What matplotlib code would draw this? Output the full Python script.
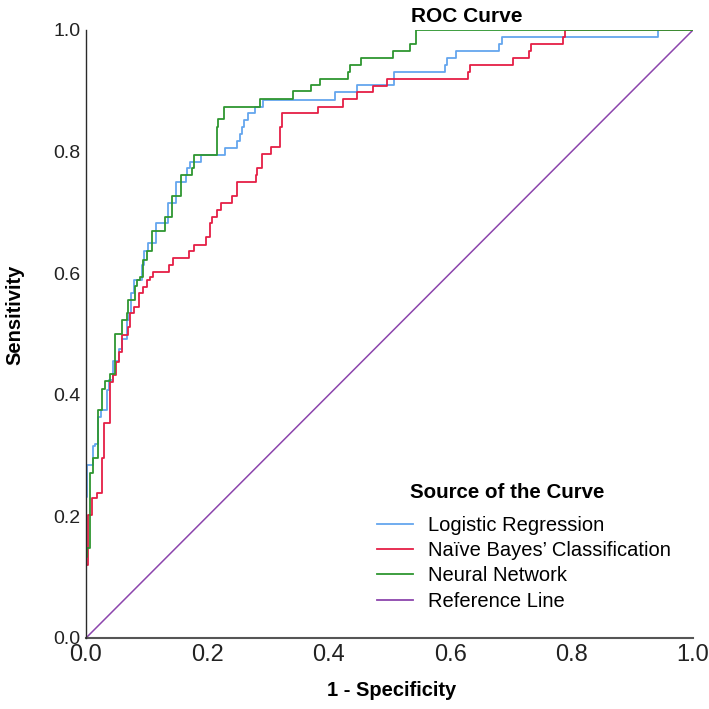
import matplotlib
matplotlib.use("Agg")
import matplotlib.pyplot as plt
from matplotlib.lines import Line2D

# ---------------- data ----------------
series_names = ["Logistic Regression", "Naïve Bayes’ Classification", "Neural Network", "Reference Line"]

lr_fpr = [0.0, 0.0, 0.002, 0.011, 0.015, 0.019, 0.024, 0.034, 0.038, 0.045, 0.055, 0.059, 0.067, 0.071,
          0.074, 0.079, 0.092, 0.095, 0.102, 0.116, 0.135, 0.149, 0.164, 0.167, 0.171, 0.189, 0.229,
          0.248, 0.253, 0.257, 0.260, 0.267, 0.279, 0.292, 0.410, 0.446, 0.507, 0.592, 0.595, 0.610,
          0.681, 0.685, 0.943, 1.0]
lr_tpr = [0.0, 0.232, 0.285, 0.315, 0.319, 0.364, 0.375, 0.408, 0.424, 0.455, 0.476, 0.491, 0.523, 0.535,
          0.567, 0.589, 0.613, 0.636, 0.649, 0.682, 0.716, 0.750, 0.762, 0.773, 0.783, 0.794, 0.806,
          0.818, 0.829, 0.840, 0.852, 0.863, 0.874, 0.885, 0.898, 0.909, 0.931, 0.943, 0.954, 0.965,
          0.977, 0.988, 1.0, 1.0]

nb_fpr = [0.0, 0.0, 0.003, 0.010, 0.018, 0.026, 0.030, 0.040, 0.044, 0.050, 0.055, 0.060, 0.070, 0.072,
          0.079, 0.088, 0.094, 0.100, 0.105, 0.110, 0.137, 0.144, 0.170, 0.178, 0.197, 0.205, 0.208,
          0.215, 0.223, 0.241, 0.249, 0.280, 0.282, 0.290, 0.305, 0.319, 0.323, 0.383, 0.424, 0.447,
          0.472, 0.496, 0.629, 0.633, 0.704, 0.730, 0.733, 0.786, 0.789, 1.0]
nb_tpr = [0.0, 0.120, 0.202, 0.230, 0.238, 0.296, 0.353, 0.421, 0.432, 0.454, 0.470, 0.499, 0.512, 0.535,
          0.545, 0.567, 0.578, 0.589, 0.594, 0.602, 0.613, 0.625, 0.637, 0.647, 0.659, 0.683, 0.693,
          0.704, 0.716, 0.727, 0.750, 0.762, 0.773, 0.796, 0.807, 0.840, 0.863, 0.874, 0.886, 0.898,
          0.908, 0.920, 0.931, 0.943, 0.954, 0.965, 0.977, 0.989, 1.0, 1.0]

nn_fpr = [0.0, 0.0, 0.002, 0.007, 0.011, 0.019, 0.026, 0.031, 0.039, 0.048, 0.059, 0.067, 0.070, 0.081,
          0.084, 0.089, 0.094, 0.100, 0.108, 0.130, 0.141, 0.156, 0.174, 0.178, 0.215, 0.218, 0.227,
          0.286, 0.341, 0.371, 0.386, 0.431, 0.435, 0.453, 0.505, 0.533, 0.544, 1.0]
nn_tpr = [0.0, 0.134, 0.148, 0.272, 0.296, 0.375, 0.409, 0.422, 0.435, 0.500, 0.523, 0.535, 0.556, 0.579,
          0.589, 0.594, 0.622, 0.636, 0.670, 0.693, 0.727, 0.762, 0.773, 0.794, 0.841, 0.853, 0.874,
          0.886, 0.899, 0.910, 0.920, 0.931, 0.943, 0.954, 0.965, 0.977, 1.0, 1.0]

ref_x = [0.0, 1.0]
ref_y = [0.0, 1.0]

ticks = [0.0, 0.2, 0.4, 0.6, 0.8, 1.0]
tick_labels = ["0.0", "0.2", "0.4", "0.6", "0.8", "1.0"]

colors = ["#64a6ee", "#e51f45", "#2e9630", "#8c45ad"]

# ---------------- figure ----------------
plt.rcParams['font.family'] = ['Liberation Sans', 'DejaVu Sans']
fig = plt.figure(figsize=(7.09, 7.09), dpi=100)
ax = fig.add_axes([86/709, 1 - 638/709, 607/709, 608/709])

lw = 1.3
ax.plot(lr_fpr, lr_tpr, drawstyle='steps-post', color=colors[0], lw=lw, zorder=3)
ax.plot(nb_fpr, nb_tpr, drawstyle='steps-post', color=colors[1], lw=lw, zorder=4)
ax.plot(nn_fpr, nn_tpr, drawstyle='steps-post', color=colors[2], lw=lw, zorder=5)
ax.plot(ref_x, ref_y, color=colors[3], lw=1.1, zorder=2)

ax.set_xlim(0, 1)
ax.set_ylim(0, 1)
ax.set_xticks(ticks)
ax.set_xticklabels(tick_labels, family=['Liberation Sans Narrow', 'Liberation Sans'], fontsize=17)
ax.set_yticks(ticks)
ax.set_yticklabels(tick_labels, fontsize=14)
ax.tick_params(axis='both', length=0, colors='#222222')
ax.tick_params(axis='x', pad=4)
ax.tick_params(axis='y', pad=4)

for s in ['top', 'right']:
    ax.spines[s].set_visible(False)
ax.spines['left'].set_color('#2a2a2a')
ax.spines['left'].set_linewidth(1.0)
ax.spines['bottom'].set_color('#555555')
ax.spines['bottom'].set_linewidth(1.5)
ax.spines['left'].set_zorder(6)

fig.text(467/709, 1 - 16/709, "ROC Curve", ha='center', va='center', fontsize=15, fontweight='bold')
fig.text(15/709, 1 - 315/709, "Sensitivity", ha='center', va='center', rotation=90,
         fontsize=14.5, fontweight='bold')
fig.text(392/709, 1 - 691/709, "1 - Specificity", ha='center', va='center',
         fontsize=14.5, fontweight='bold')

# legend
handles = [Line2D([], [], color=c, lw=1.3) for c in colors]
fig.text(410/709, 1 - 492/709, "Source of the Curve", ha='left', va='center',
         fontsize=14.8, fontweight='bold')
leg = ax.legend(handles, series_names, loc='upper left', bbox_to_anchor=(377/709, 1 - 516/709),
                bbox_transform=fig.transFigure, frameon=False, fontsize=14.5, borderpad=0,
                borderaxespad=0, handlelength=1.8, handletextpad=0.75, labelspacing=0.31)

fig.savefig("out.png", dpi=100, facecolor='white')
